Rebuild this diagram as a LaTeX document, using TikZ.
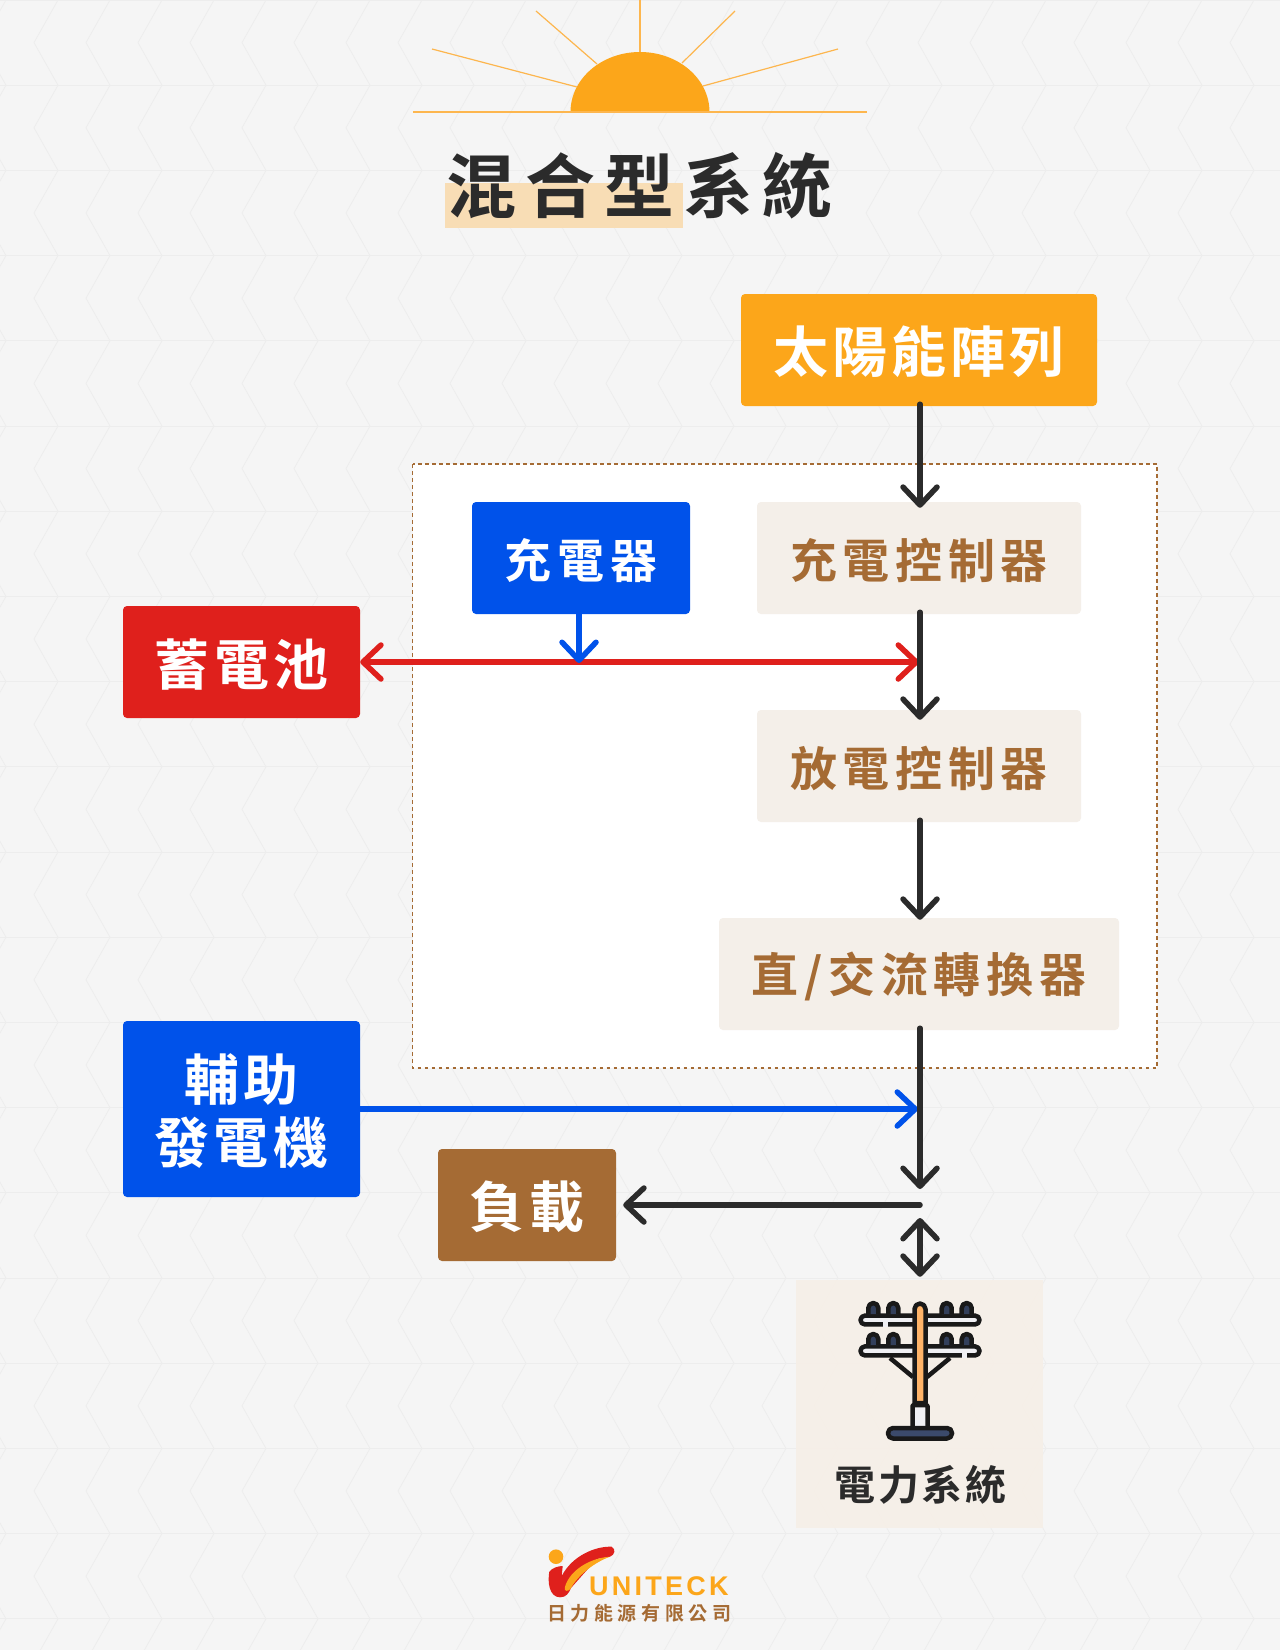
\documentclass[tikz,border=0pt]{standalone}
\usepackage{fontspec}
\usepackage{tikz}
\usetikzlibrary{arrows.meta}
\newfontfamily\cjkbig[LetterSpace=7.5]{Noto Sans CJK TC Bold}
\newfontfamily\cjkmid[LetterSpace=12]{Noto Sans CJK TC Bold}
\newfontfamily\cjktitle[LetterSpace=13]{Noto Sans CJK TC Bold}
\newfontfamily\cjkgrid[LetterSpace=6]{Noto Sans CJK TC Bold}
\newfontfamily\cjkco[LetterSpace=24]{Noto Sans CJK TC Bold}
\newfontfamily\logofont[LetterSpace=12]{Liberation Sans Bold}
\definecolor{bgcolor}{HTML}{F5F5F5}
\definecolor{bgline}{HTML}{EDEDED}
\definecolor{sunorange}{HTML}{FCA61A}
\definecolor{raycolor}{HTML}{FDB64E}
\definecolor{markcolor}{HTML}{F8DDB5}
\definecolor{ink}{HTML}{2B2B2B}
\definecolor{unitblue}{HTML}{0052EA}
\definecolor{unitred}{HTML}{DF201C}
\definecolor{brown}{HTML}{A56B34}
\definecolor{beige}{HTML}{F4EFE9}
\definecolor{gridpanel}{HTML}{F6EFE7}
\definecolor{polewhite}{HTML}{F0F0F4}
\definecolor{polenavy}{HTML}{3B4A6B}
\definecolor{poleorange}{HTML}{FFB469}
\newcommand{\lowline}[1]{\raisebox{-5pt}[40pt][5pt]{#1}}
\tikzset{
	basebox/.style={rounded corners=4pt, inner sep=0pt, align=center},
	bigtext/.style={text=white, font=\cjkbig\fontsize{55}{63}\selectfont, execute at begin node={\rule{0pt}{#1}}},
	midtext/.style={font=\cjkmid\fontsize{47}{54}\selectfont, execute at begin node={\rule{0pt}{44.5pt}}},
	solidbox/.style={basebox, bigtext=51pt},
	softbox/.style={basebox, fill=beige, text=brown, midtext},
	flowline/.style={line width=5.5pt, line cap=round, -{Straight Barb[round,length=18pt,width=34pt]}},
	bothline/.style={line width=5.5pt, line cap=round, {Straight Barb[round,length=18pt,width=34pt]}-{Straight Barb[round,length=18pt,width=34pt]}},
	poleline/.style={draw=black!90, line width=4.5pt, line join=round}
}
\begin{document}
\begin{tikzpicture}[x=1pt, y=-1pt]
	\useasboundingbox (0,0) rectangle (1280,1650);
	\fill[bgcolor] (0,0) rectangle (1280,1650);
	\foreach \row in {0,...,19} {
		\draw[bgline, line width=1pt] (0,{85.2*\row}) -- (1280,{85.2*\row});
		\foreach \col in {0,...,24} {
			\draw[bgline, line width=.8pt] ({6+52*\col},{85.2*\row}) -- ({-18+52*\col},{85.2*\row+42.6}) -- ({6+52*\col},{85.2*\row+85.2});
		}
	}
	\fill[sunorange] (570.5,112) arc[start angle=180, end angle=360, x radius=69.5, y radius=60] -- cycle;
	\draw[raycolor, line width=1.5pt] (413,112) -- (867,112);
	\draw[raycolor, line width=2pt] (640,0) -- (640,52);
	\foreach \xa/\ya/\xb/\yb in {536/11/597/64, 735/11/682/63, 432/49/577/87, 838/49/703/86} {
		\draw[raycolor, line width=1.2pt] (\xa,\ya) -- (\xb,\yb);
	}
	\fill[markcolor] (445,183) rectangle (683,228);
	\node[text=ink, inner sep=0pt, font=\cjktitle\fontsize{70}{80}\selectfont] (title) at (639.5,186) {混合型系統};

	\node[solidbox, fill=sunorange, minimum width=356pt, minimum height=112pt] (solar) at (919,350) {太陽能陣列};
	\draw[draw=brown, fill=white, line width=1.5pt, dash pattern=on 3.5pt off 3.5pt] (412.5,464) rectangle (1157,1068);
	\node[basebox, midtext, text=white, fill=unitblue, minimum width=218pt, minimum height=112pt] (charger) at (581,558) {充電器};
	\node[softbox, minimum width=324pt, minimum height=112pt] (chargectrl) at (919,558) {充電控制器};
	\node[softbox, minimum width=324pt, minimum height=112pt] (dischargectrl) at (919,766) {放電控制器};
	\node[softbox, minimum width=400pt, minimum height=112pt] (inverter) at (919,974) {直/交流轉換器};
	\node[solidbox, fill=unitred, minimum width=237pt, minimum height=112pt] (battery) at (241.5,662) {蓄電池};
	\node[basebox, bigtext=1pt, fill=unitblue, minimum width=237pt, minimum height=176pt] (generator) at (241.5,1109) {\lowline{輔助}\\\lowline{發電機}};
	\node[solidbox, fill=brown, minimum width=178pt, minimum height=112pt] (load) at (527,1205) {負載};
	\node[fill=gridpanel, fill opacity=.9, text opacity=1, inner sep=0pt, minimum width=247pt, minimum height=248pt] (grid) at (919.5,1404) {};
	\node[text=ink, inner sep=0pt, font=\cjkgrid\fontsize{41}{46}\selectfont] (gridname) at (920.5,1485) {電力系統};

	\coordinate (redend) at (919,662);
	\coordinate (chargeend) at (579,663);
	\coordinate (charsource) at (579,614);
	\coordinate (blueend) at (918,1109);
	\coordinate (busend) at (920,1189);
	\coordinate (loadstart) at (920,1205);
	\coordinate (bothend) at (920,1218);
	\draw[flowline, unitred, {Straight Barb[round,length=18pt,width=34pt]}-{Straight Barb[round,length=18pt,width=34pt]}] (battery.east) -- (redend);
	\draw[flowline, unitblue] (charsource) -- (chargeend);
	\draw[flowline, unitblue] (generator.east) -- (blueend);
	\draw[flowline, ink, shorten <=-2pt, shorten >=-6pt] (solar.south -| bothend) -- (chargectrl.north -| bothend);
	\draw[flowline, ink, shorten <=-2pt, shorten >=-10pt] (chargectrl.south -| bothend) -- (dischargectrl.north -| bothend);
	\draw[flowline, ink, shorten <=-2pt, shorten >=-2pt] (dischargectrl.south -| bothend) -- (inverter.north -| bothend);
	\draw[flowline, ink, shorten <=-2pt] (inverter.south -| bothend) -- (busend);
	\draw[flowline, ink, shorten >=7pt] (loadstart) -- (load.east);
	\draw[bothline, ink, shorten >=3pt] (bothend) -- (grid.north -| bothend);

	\draw[poleline, fill=polewhite, rounded corners=4.4pt] (860.5,1315.6) rectangle (979.5,1324.4);
	\draw[poleline, fill=polewhite, rounded corners=4.4pt] (860.5,1346.4) rectangle (979.5,1355.4);
	\draw[polewhite, line width=4.5pt] (883,1324.4) -- (888,1324.4);
	\draw[polewhite, line width=4.5pt] (962,1355.4) -- (967,1355.4);
	\foreach \px in {873.3,893.3,946.7,966.7} {
		\foreach \py in {1314,1345} {
			\draw[poleline, fill=polenavy!85!black] (\px-5,\py) -- (\px-5,\py-6) arc[start angle=180, end angle=360, radius=5] -- (\px+5,\py);
		}
	}
	\draw[poleline] (890,1358) -- (913,1377);
	\draw[poleline] (950,1358) -- (927,1377);
	\draw[poleline, fill=poleorange] (914.5,1403) -- (914.5,1309) arc[start angle=180, end angle=360, radius=5.5] -- (925.5,1403) -- cycle;
	\draw[poleline, fill=polewhite, rounded corners=1pt] (912.5,1428) -- (912.5,1405) -- (927.5,1405) -- (927.5,1428);
	\draw[poleline, fill=polenavy, rounded corners=5pt] (888,1428) rectangle (952,1438.5);

	\fill[unitred] (549.3,1571.7) .. controls (547.5,1582) and (549,1597) .. (560,1597.3) .. controls (566,1597.5) and (569,1593) .. (571,1588) -- (596.7,1559) -- (610,1556.7) .. controls (615,1555) and (616,1549) .. (611.7,1546.7) .. controls (595,1546) and (572,1556) .. (561.7,1576) -- (562.7,1566) .. controls (558,1566) and (552,1568) .. (549.3,1571.7) -- cycle;
	\fill[sunorange] (565,1586.7) .. controls (570,1570) and (590,1558) .. (610,1556.7) .. controls (595,1562) and (578,1575) .. (571,1588) .. controls (569,1592) and (563,1592) .. (565,1586.7) -- cycle;
	\fill[sunorange] (556,1556.7) circle[radius=7.3];
	\node[anchor=west, inner sep=0pt, text=sunorange, font=\logofont\fontsize{27}{30}\selectfont] (logoname) at (589,1586) {UNITECK};
	\node[anchor=west, inner sep=0pt, text=brown, font=\cjkco\fontsize{19}{22}\selectfont] (logosub) at (547,1613) {日力能源有限公司};
\end{tikzpicture}
\end{document}
